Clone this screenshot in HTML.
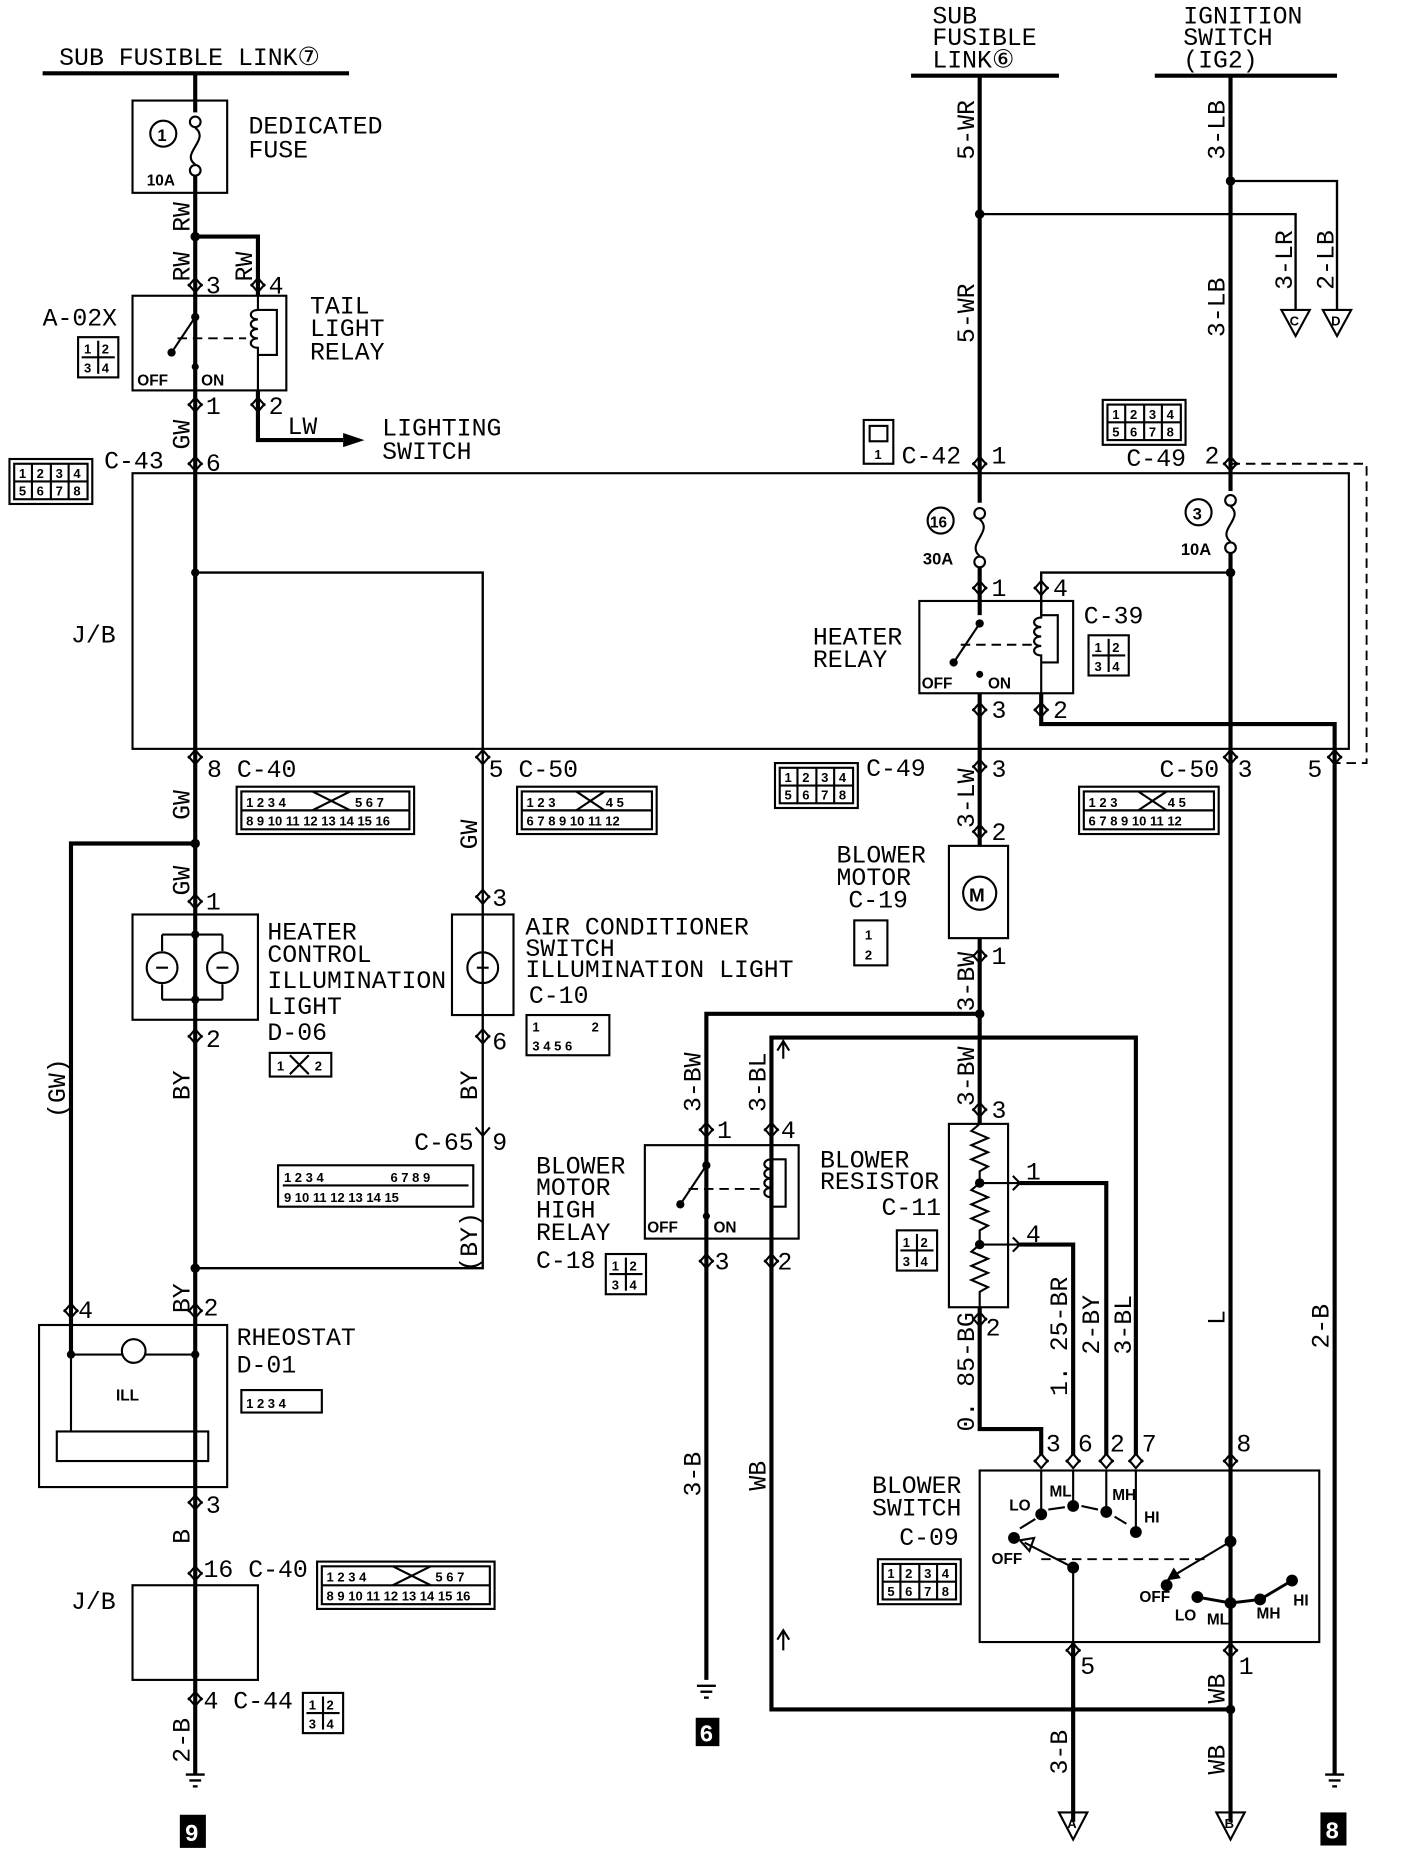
<!DOCTYPE html>
<html><head><meta charset="utf-8"><style>
html,body{margin:0;padding:0;background:#fff}
svg{display:block}
text{font-family:"Liberation Mono","DejaVu Sans Mono",monospace;fill:#000}
.t{font-size:21px}
.s{font-size:11px;font-weight:bold;font-family:"Liberation Sans",sans-serif}
.w{stroke:#000;stroke-width:3.5;fill:none}
.n{stroke:#000;stroke-width:1.8;fill:none}
.d{stroke:#000;stroke-width:1.6;fill:none;stroke-dasharray:8 5}
</style></head><body>
<svg width="1408" height="1868" viewBox="0 0 1190 1579" preserveAspectRatio="none" xmlns="http://www.w3.org/2000/svg">
<defs>
<path id="u" d="M-6,7 L0,0 L6,7" stroke="#000" stroke-width="1.8" fill="none"/>
<path id="v" d="M-6,-7 L0,0 L6,-7" stroke="#000" stroke-width="1.8" fill="none"/>
<g id="pin"><use href="#u" y="-6"/><use href="#v" y="6"/></g>
<g id="gnd"><line x1="-8" y1="0" x2="8" y2="0" stroke="#000" stroke-width="2"/><line x1="-5" y1="5" x2="5" y2="5" stroke="#000" stroke-width="2"/><line x1="-2" y1="10" x2="2" y2="10" stroke="#000" stroke-width="2"/></g>
<g id="c4"><rect x="0" y="0" width="34" height="34" class="n"/><line x1="17" y1="3" x2="17" y2="31" class="n"/><line x1="3" y1="17" x2="31" y2="17" class="n"/><text x="5" y="14" class="s">1</text><text x="20" y="14" class="s">2</text><text x="5" y="30" class="s">3</text><text x="20" y="30" class="s">4</text></g>
<g id="c8"><rect x="0" y="0" width="70" height="38" class="n"/><rect x="4" y="4" width="62" height="30" class="n"/><line x1="4" y1="19" x2="66" y2="19" class="n"/><line x1="19" y1="4" x2="19" y2="34" class="n"/><line x1="35" y1="4" x2="35" y2="34" class="n"/><line x1="50" y1="4" x2="50" y2="34" class="n"/><text x="8" y="16" class="s">1</text><text x="23" y="16" class="s">2</text><text x="39" y="16" class="s">3</text><text x="54" y="16" class="s">4</text><text x="8" y="31" class="s">5</text><text x="23" y="31" class="s">6</text><text x="39" y="31" class="s">7</text><text x="54" y="31" class="s">8</text></g>
<g id="c12"><rect x="0" y="0" width="118" height="40" class="n"/><rect x="4" y="4" width="110" height="32" class="n"/><line x1="4" y1="20" x2="114" y2="20" class="n"/><text x="8" y="17" class="s">1 2 3</text><text x="75" y="17" class="s">4 5</text><text x="8" y="33" class="s">6 7 8 9 10 11 12</text><path d="M50,4 L74,20 M74,4 L50,20" class="n"/></g>
<g id="c16"><rect x="0" y="0" width="150" height="40" class="n"/><rect x="4" y="4" width="142" height="32" class="n"/><line x1="4" y1="20" x2="146" y2="20" class="n"/><text x="8" y="17" class="s">1 2 3 4</text><text x="100" y="17" class="s">5 6 7</text><text x="8" y="33" class="s">8 9 10 11 12 13 14 15 16</text><path d="M64,4 L96,20 M96,4 L64,20" class="n"/></g>
</defs>

<!-- TOP LEFT -->
<text x="50" y="55" class="t">SUB FUSIBLE LINK⑦</text>
<line x1="36" y1="62" x2="295" y2="62" class="w"/>
<line x1="165" y1="62" x2="165" y2="95" class="w"/>
<rect x="112" y="85" width="80" height="78" class="n"/>
<circle cx="165" cy="103" r="4.5" class="n"/><circle cx="165" cy="144" r="4.5" class="n"/>
<path d="M165,108 C178,118 152,130 165,139" class="n"/>
<circle cx="138" cy="113" r="11" class="n"/><text x="133" y="119" class="s" style="font-size:14px">1</text>
<text x="124" y="157" class="s" style="font-size:13px">10A</text>
<text x="210" y="113" class="t">DEDICATED</text><text x="210" y="133" class="t">FUSE</text>
<line x1="165" y1="149" x2="165" y2="1500" class="w"/>
<circle cx="165" cy="200" r="4" fill="#000"/>
<path d="M165,200 H218 V250" class="w"/>
<text class="t" transform="translate(160,196) rotate(-90)">RW</text>
<text class="t" transform="translate(160,238) rotate(-90)">RW</text>
<text class="t" transform="translate(213,238) rotate(-90)">RW</text>
<use href="#pin" x="165" y="241"/><use href="#pin" x="218" y="241"/>
<text x="174" y="248" class="t">3</text><text x="227" y="248" class="t">4</text>
<rect x="112" y="250" width="130" height="80" class="n"/>
<line x1="165" y1="250" x2="165" y2="268" class="n"/><circle cx="165" cy="268" r="3.5" fill="#000"/>
<line x1="165" y1="268" x2="145" y2="298" class="n"/><circle cx="145" cy="298" r="3.5" fill="#000"/>
<circle cx="165" cy="310" r="3" fill="#000"/>
<line x1="150" y1="286" x2="208" y2="286" class="d"/>
<path d="M218,250 V262 C210,262 210,270 218,270 C210,270 210,278 218,278 C210,278 210,286 218,286 C210,286 210,294 218,294 V330" class="n"/>
<path d="M218,262 H234 V300 H218" class="n"/>
<text x="116" y="326" class="s" style="font-size:13px">OFF</text><text x="170" y="326" class="s" style="font-size:13px">ON</text>
<text x="262" y="265" class="t">TAIL</text><text x="262" y="284" class="t">LIGHT</text><text x="262" y="304" class="t">RELAY</text>
<text x="36" y="275" class="t">A-02X</text><use href="#c4" x="66" y="285"/>
<use href="#pin" x="165" y="342"/><use href="#pin" x="218" y="342"/>
<text x="174" y="350" class="t">1</text><text x="227" y="350" class="t">2</text>
<path d="M218,330 V372 H290" class="w"/><path d="M290,366 L308,372 L290,378 Z"/>
<text x="243" y="367" class="t">LW</text>
<text x="323" y="368" class="t">LIGHTING</text><text x="323" y="388" class="t">SWITCH</text>
<text class="t" transform="translate(160,380) rotate(-90)">GW</text>
<use href="#c8" x="8" y="388"/><text x="88" y="396" class="t">C-43</text>
<use href="#pin" x="165" y="392"/><text x="174" y="398" class="t">6</text>

<!-- J/B box -->
<rect x="112" y="400" width="1028" height="233" class="n"/>
<text x="60" y="543" class="t">J/B</text>
<circle cx="165" cy="484" r="3.5" fill="#000"/>
<path d="M165,484 H408 V1072 H165" class="n" style="stroke-width:2"/>
<use href="#pin" x="165" y="640"/><use href="#pin" x="408" y="640"/>
<text x="175" y="657" class="t">8 C-40</text><use href="#c16" x="200" y="665"/>
<text x="413" y="657" class="t">5 C-50</text><use href="#c12" x="437" y="665"/>
<use href="#c8" x="655" y="645"/><text x="732" y="656" class="t">C-49</text>
<use href="#c12" x="912" y="665"/><text x="980" y="657" class="t">C-50</text>
<text x="1046" y="657" class="t">3</text><text x="1105" y="657" class="t">5</text>
<use href="#pin" x="1040" y="640"/><use href="#pin" x="1128" y="640"/>

<!-- RIGHT TOP -->
<text x="788" y="20" class="t">SUB</text><text x="788" y="38" class="t">FUSIBLE</text><text x="788" y="57" class="t">LINK⑥</text>
<line x1="770" y1="64" x2="895" y2="64" class="w"/>
<text x="1000" y="20" class="t">IGNITION</text><text x="1000" y="38" class="t">SWITCH</text><text x="1000" y="57" class="t">(IG2)</text>
<line x1="976" y1="64" x2="1130" y2="64" class="w"/>
<line x1="828" y1="64" x2="828" y2="425" class="w"/>
<line x1="1040" y1="64" x2="1040" y2="415" class="w"/>
<text class="t" transform="translate(823,135) rotate(-90)">5-WR</text>
<text class="t" transform="translate(823,290) rotate(-90)">5-WR</text>
<text class="t" transform="translate(1035,135) rotate(-90)">3-LB</text>
<text class="t" transform="translate(1035,285) rotate(-90)">3-LB</text>
<circle cx="828" cy="181" r="4" fill="#000"/><circle cx="1040" cy="153" r="4" fill="#000"/>
<path d="M828,181 H1095 V262" class="n" style="stroke-width:2"/>
<path d="M1040,153 H1130 V262" class="n" style="stroke-width:2"/>
<path d="M1083,262 H1107 L1095,284 Z" class="n"/><text x="1090" y="275" class="s">C</text>
<path d="M1118,262 H1142 L1130,284 Z" class="n"/><text x="1125" y="275" class="s">D</text>
<text class="t" transform="translate(1092,245) rotate(-90)">3-LR</text>
<text class="t" transform="translate(1127,245) rotate(-90)">2-LB</text>
<rect x="730" y="355" width="25" height="37" class="n"/><rect x="735" y="360" width="15" height="13" class="n"/><text x="739" y="388" class="s">1</text>
<text x="762" y="392" class="t">C-42</text><text x="838" y="392" class="t">1</text>
<use href="#pin" x="828" y="392"/>
<use href="#c8" x="932" y="338"/><text x="952" y="394" class="t">C-49</text><text x="1018" y="392" class="t">2</text>
<use href="#pin" x="1040" y="392"/>
<path d="M1040,392 H1155 V645 H1128" class="d"/>
<circle cx="828" cy="434" r="4.5" class="n"/><circle cx="828" cy="475" r="4.5" class="n"/>
<path d="M828,439 C840,449 816,460 828,470" class="n"/>
<circle cx="795" cy="440" r="11" class="n"/><text x="786" y="446" class="s" style="font-size:13px">16</text>
<text x="780" y="477" class="s" style="font-size:14px">30A</text>
<line x1="828" y1="480" x2="828" y2="520" class="w"/>
<circle cx="1040" cy="423" r="4.5" class="n"/><circle cx="1040" cy="463" r="4.5" class="n"/>
<path d="M1040,428 C1052,438 1028,448 1040,458" class="n"/>
<circle cx="1013" cy="433" r="11" class="n"/><text x="1008" y="439" class="s" style="font-size:14px">3</text>
<text x="998" y="469" class="s" style="font-size:14px">10A</text>
<line x1="1040" y1="468" x2="1040" y2="1540" class="w"/>
<circle cx="1040" cy="484" r="4" fill="#000"/>
<path d="M1040,484 H880 V520" class="n" style="stroke-width:2"/>
<use href="#pin" x="828" y="497"/><use href="#pin" x="880" y="497"/>
<text x="838" y="504" class="t">1</text><text x="890" y="504" class="t">4</text>
<rect x="777" y="508" width="130" height="78" class="n"/>
<circle cx="828" cy="527" r="3.5" fill="#000"/><line x1="828" y1="527" x2="806" y2="560" class="n"/><circle cx="806" cy="560" r="3.5" fill="#000"/><circle cx="828" cy="570" r="3" fill="#000"/>
<line x1="812" y1="545" x2="872" y2="545" class="d"/>
<path d="M880,508 V522 C872,522 872,530 880,530 C872,530 872,538 880,538 C872,538 872,546 880,546 C872,546 872,554 880,554 V586" class="n"/>
<path d="M880,520 H894 V560 H880" class="n"/>
<text x="779" y="582" class="s" style="font-size:13px">OFF</text><text x="835" y="582" class="s" style="font-size:13px">ON</text>
<text x="687" y="545" class="t">HEATER</text><text x="687" y="564" class="t">RELAY</text>
<text x="916" y="527" class="t">C-39</text><use href="#c4" x="920" y="537"/>
<use href="#pin" x="828" y="600"/><use href="#pin" x="880" y="600"/>
<text x="838" y="607" class="t">3</text><text x="890" y="607" class="t">2</text>
<path d="M880,586 V612 H1128 V1500" class="w"/>
<line x1="828" y1="586" x2="828" y2="715" class="w"/>
<use href="#pin" x="828" y="648"/><text x="838" y="657" class="t">3</text>
<text class="t" transform="translate(823,700) rotate(-90)">3-LW</text>
<use href="#pin" x="828" y="703"/><text x="838" y="710" class="t">2</text>
<rect x="802" y="715" width="50" height="78" class="n"/>
<circle cx="828" cy="755" r="14" class="n"/><text x="819" y="762" class="s" style="font-size:16px">M</text>
<text x="707" y="729" class="t">BLOWER</text><text x="707" y="748" class="t">MOTOR</text><text x="717" y="767" class="t">C-19</text>
<rect x="722" y="778" width="28" height="38" class="n"/><text x="731" y="794" class="s">1</text><text x="731" y="811" class="s">2</text>
<line x1="828" y1="793" x2="828" y2="950" class="w"/>
<use href="#pin" x="828" y="808"/><text x="838" y="815" class="t">1</text>
<text class="t" transform="translate(823,855) rotate(-90)">3-BW</text>
<circle cx="828" cy="857" r="4" fill="#000"/>
<path d="M828,857 H597 V1420" class="w"/>
<path d="M960,1230 V877 H652 V1445 H1040" class="w"/>
<circle cx="1040" cy="1445" r="4" fill="#000"/>
<text class="t" transform="translate(823,935) rotate(-90)">3-BW</text>
<path d="M662,895 V880 M657,888 L662,880 L667,888" class="n"/>
<path d="M662,1395 V1378 M657,1386 L662,1378 L667,1386" class="n"/>

<!-- Blower motor high relay -->
<text class="t" transform="translate(592,940) rotate(-90)">3-BW</text>
<text class="t" transform="translate(647,940) rotate(-90)">3-BL</text>
<use href="#pin" x="597" y="955"/><use href="#pin" x="652" y="955"/>
<text x="606" y="962" class="t">1</text><text x="660" y="962" class="t">4</text>
<rect x="545" y="968" width="130" height="79" class="n"/>
<circle cx="597" cy="985" r="3.5" fill="#000"/><line x1="597" y1="985" x2="575" y2="1018" class="n"/><circle cx="575" cy="1018" r="3.5" fill="#000"/><circle cx="597" cy="1028" r="3" fill="#000"/>
<line x1="582" y1="1005" x2="645" y2="1005" class="d"/>
<path d="M652,980 C644,980 644,988 652,988 C644,988 644,996 652,996 C644,996 644,1004 652,1004 C644,1004 644,1012 652,1012" class="n"/>
<path d="M652,980 H664 V1020 H652" class="n"/>
<text x="547" y="1042" class="s" style="font-size:13px">OFF</text><text x="603" y="1042" class="s" style="font-size:13px">ON</text>
<text x="453" y="992" class="t">BLOWER</text><text x="453" y="1010" class="t">MOTOR</text><text x="453" y="1029" class="t">HIGH</text><text x="453" y="1048" class="t">RELAY</text>
<text x="453" y="1072" class="t">C-18</text><use href="#c4" x="512" y="1060"/>
<use href="#pin" x="597" y="1066"/><use href="#pin" x="652" y="1066"/>
<text x="604" y="1073" class="t">3</text><text x="657" y="1073" class="t">2</text>
<text class="t" transform="translate(592,1265) rotate(-90)">3-B</text>
<text class="t" transform="translate(647,1260) rotate(-90)">WB</text>
<use href="#gnd" x="597" y="1425"/>
<rect x="588" y="1452" width="20" height="24" fill="#000"/><text x="591" y="1472" style="font-size:20px;fill:#fff;font-weight:bold">6</text>

<!-- Blower resistor -->
<use href="#pin" x="828" y="938"/><text x="838" y="945" class="t">3</text>
<rect x="802" y="950" width="50" height="155" class="n"/>
<path d="M828,950 l-7,6 14,6 -14,6 14,6 -14,6 14,6 -7,4 V1000 l-7,6 14,6 -14,6 14,6 -14,6 14,6 -7,4 V1052 l-7,6 14,6 -14,6 14,6 -14,6 14,6 -7,4 V1105" class="n"/>
<circle cx="828" cy="1000" r="4" fill="#000"/><circle cx="828" cy="1052" r="4" fill="#000"/>
<path d="M828,1000 H862 M856,994 L862,1000 L856,1006" class="n"/>
<path d="M828,1052 H862 M856,1046 L862,1052 L856,1058" class="n"/>
<path d="M862,1000 H935 V1230" class="w"/>
<path d="M862,1052 H907 V1230" class="w"/>
<text x="867" y="997" class="t">1</text><text x="867" y="1050" class="t">4</text>
<text x="693" y="987" class="t">BLOWER</text><text x="693" y="1005" class="t">RESISTOR</text><text x="745" y="1027" class="t">C-11</text>
<use href="#c4" x="758" y="1040"/>
<use href="#pin" x="828" y="1115"/><text x="833" y="1129" class="t">2</text>
<path d="M828,1105 V1208 H880 V1230" class="w"/>
<text class="t" transform="translate(823,1210) rotate(-90)">0. 85-BG</text>
<text class="t" transform="translate(902,1180) rotate(-90)">1. 25-BR</text>
<text class="t" transform="translate(929,1145) rotate(-90)">2-BY</text>
<text class="t" transform="translate(956,1145) rotate(-90)">3-BL</text>
<text class="t" transform="translate(1035,1120) rotate(-90)">L</text>
<text class="t" transform="translate(1123,1140) rotate(-90)">2-B</text>

<!-- Blower switch -->
<use href="#pin" x="880" y="1235"/><use href="#pin" x="907" y="1235"/><use href="#pin" x="935" y="1235"/><use href="#pin" x="960" y="1235"/><use href="#pin" x="1040" y="1235"/>
<text x="884" y="1227" class="t">3</text><text x="911" y="1227" class="t">6</text><text x="938" y="1227" class="t">2</text><text x="965" y="1227" class="t">7</text><text x="1045" y="1227" class="t">8</text>
<rect x="828" y="1243" width="287" height="145" class="n"/>
<line x1="880" y1="1243" x2="880" y2="1280" class="n"/><line x1="907" y1="1243" x2="907" y2="1273" class="n"/><line x1="935" y1="1243" x2="935" y2="1278" class="n"/><line x1="960" y1="1243" x2="960" y2="1295" class="n"/>
<circle cx="880" cy="1280" r="5" fill="#000"/><circle cx="907" cy="1273" r="5" fill="#000"/><circle cx="935" cy="1278" r="5" fill="#000"/><circle cx="960" cy="1295" r="5" fill="#000"/>
<circle cx="857" cy="1300" r="5" fill="#000"/>
<path d="M862,1292 L875,1284 M886,1276 L900,1274 M914,1273 L928,1276 M942,1282 L952,1288" class="n"/>
<line x1="907" y1="1325" x2="866" y2="1304" class="n"/><path d="M862,1302 L874,1300 L870,1311 Z" class="n"/>
<circle cx="907" cy="1325" r="5" fill="#000"/>
<line x1="907" y1="1325" x2="907" y2="1400" class="n"/>
<line x1="880" y1="1318" x2="1018" y2="1318" class="d"/>
<text x="853" y="1277" class="s" style="font-size:13px">LO</text><text x="887" y="1265" class="s" style="font-size:13px">ML</text><text x="940" y="1268" class="s" style="font-size:13px">MH</text><text x="967" y="1287" class="s" style="font-size:13px">HI</text>
<text x="838" y="1322" class="s" style="font-size:13px">OFF</text>
<line x1="1040" y1="1243" x2="1040" y2="1303" class="n"/><circle cx="1040" cy="1303" r="5" fill="#000"/>
<line x1="1040" y1="1303" x2="990" y2="1333" class="n"/><path d="M986,1336 L992,1325 L998,1334 Z" fill="#000"/>
<circle cx="986" cy="1340" r="5" fill="#000"/>
<path d="M1012,1350 L1040,1355 L1065,1352 L1092,1336" class="n" style="stroke-width:2.5"/>
<circle cx="1012" cy="1350" r="5" fill="#000"/><circle cx="1040" cy="1355" r="5" fill="#000"/><circle cx="1065" cy="1352" r="5" fill="#000"/><circle cx="1092" cy="1336" r="5" fill="#000"/>
<text x="963" y="1354" class="s" style="font-size:13px">OFF</text><text x="993" y="1370" class="s" style="font-size:13px">LO</text><text x="1020" y="1373" class="s" style="font-size:13px">ML</text><text x="1062" y="1368" class="s" style="font-size:13px">MH</text><text x="1093" y="1357" class="s" style="font-size:13px">HI</text>
<text x="737" y="1262" class="t">BLOWER</text><text x="737" y="1281" class="t">SWITCH</text><text x="760" y="1306" class="t">C-09</text>
<use href="#c8" x="742" y="1318"/>
<use href="#pin" x="907" y="1395"/><use href="#pin" x="1040" y="1395"/>
<text x="913" y="1415" class="t">5</text><text x="1047" y="1415" class="t">1</text>
<line x1="907" y1="1388" x2="907" y2="1540" class="w"/>
<text class="t" transform="translate(902,1500) rotate(-90)">3-B</text>
<text class="t" transform="translate(1035,1440) rotate(-90)">WB</text>
<text class="t" transform="translate(1035,1500) rotate(-90)">WB</text>
<path d="M895,1532 H919 L907,1555 Z" class="n"/><text x="902" y="1545" class="s">A</text>
<path d="M1028,1532 H1052 L1040,1555 Z" class="n"/><text x="1035" y="1545" class="s">B</text>
<use href="#gnd" x="1128" y="1500"/>
<rect x="1116" y="1532" width="22" height="28" fill="#000"/><text x="1120" y="1554" style="font-size:20px;fill:#fff;font-weight:bold">8</text>

<!-- LEFT LOWER -->
<text class="t" transform="translate(160,693) rotate(-90)">GW</text>
<circle cx="165" cy="713" r="4" fill="#000"/>
<path d="M165,713 H60 V1145" class="w"/>
<text class="t" transform="translate(55,945) rotate(-90)">(GW)</text>
<text class="t" transform="translate(160,757) rotate(-90)">GW</text>
<use href="#pin" x="165" y="762"/><text x="174" y="769" class="t">1</text>
<rect x="112" y="773" width="106" height="89" class="n"/>
<circle cx="165" cy="790" r="3.5" fill="#000"/><circle cx="165" cy="845" r="3.5" fill="#000"/>
<path d="M137,790 H188 M137,845 H188" class="n"/><path d="M137,790 V804 M137,832 V845 M188,790 V804 M188,832 V845" class="n"/>
<circle cx="137" cy="818" r="13" class="n"/><circle cx="188" cy="818" r="13" class="n"/>
<path d="M132,818 h10 M183,818 h10" class="n"/>
<text x="226" y="794" class="t">HEATER</text><text x="226" y="813" class="t">CONTROL</text><text x="226" y="835" class="t">ILLUMINATION</text><text x="226" y="857" class="t">LIGHT</text><text x="226" y="879" class="t">D-06</text>
<rect x="228" y="890" width="52" height="20" class="n"/><text x="234" y="905" class="s">1</text><path d="M245,892 L261,908 M261,892 L245,908" class="n"/><text x="266" y="905" class="s">2</text>
<use href="#pin" x="165" y="876"/><text x="174" y="885" class="t">2</text>
<text class="t" transform="translate(160,930) rotate(-90)">BY</text>
<text class="t" transform="translate(403,718) rotate(-90)">GW</text>
<use href="#pin" x="408" y="758"/><text x="416" y="766" class="t">3</text>
<rect x="382" y="773" width="52" height="85" class="n"/>
<circle cx="408" cy="818" r="13" class="n"/><path d="M403,818 h10" class="n"/>
<text x="444" y="790" class="t">AIR CONDITIONER</text><text x="444" y="808" class="t">SWITCH</text><text x="444" y="826" class="t">ILLUMINATION LIGHT</text><text x="447" y="848" class="t">C-10</text>
<rect x="445" y="858" width="70" height="34" class="n"/><text x="450" y="872" class="s">1</text><text x="500" y="872" class="s">2</text><text x="450" y="888" class="s">3 4 5 6</text>
<use href="#pin" x="408" y="876"/><text x="416" y="887" class="t">6</text>
<text class="t" transform="translate(403,930) rotate(-90)">BY</text>
<use href="#v" x="408" y="960"/><text x="350" y="972" class="t">C-65</text><text x="416" y="972" class="t">9</text>
<rect x="235" y="985" width="165" height="35" class="n"/><line x1="239" y1="1002" x2="396" y2="1002" class="n"/>
<text x="240" y="999" class="s">1 2 3 4</text><text x="330" y="999" class="s">6 7 8 9</text><text x="240" y="1016" class="s">9 10  11  12  13 14 15</text>
<text class="t" transform="translate(403,1075) rotate(-90)">(BY)</text>
<circle cx="165" cy="1072" r="4" fill="#000"/>
<text class="t" transform="translate(160,1110) rotate(-90)">BY</text>
<use href="#pin" x="60" y="1108"/><use href="#pin" x="165" y="1108"/>
<text x="66" y="1114" class="t">4</text><text x="172" y="1112" class="t">2</text>
<rect x="33" y="1120" width="159" height="137" class="n"/>
<circle cx="60" cy="1145" r="3.5" fill="#000"/><circle cx="165" cy="1145" r="3.5" fill="#000"/>
<path d="M60,1145 H165 M60,1145 V1210" class="n"/>
<circle cx="113" cy="1142" r="10" class="n" style="fill:#fff"/>
<text x="98" y="1184" class="s" style="font-size:13px">ILL</text>
<rect x="48" y="1210" width="128" height="25" class="n"/>
<text x="200" y="1137" class="t">RHEOSTAT</text><text x="200" y="1160" class="t">D-01</text>
<rect x="204" y="1175" width="68" height="19" class="n"/><text x="208" y="1190" class="s">1 2 3 4</text>
<use href="#pin" x="165" y="1270"/><text x="174" y="1279" class="t">3</text>
<text class="t" transform="translate(160,1305) rotate(-90)">B</text>
<use href="#pin" x="165" y="1330"/><text x="172" y="1333" class="t">16 C-40</text>
<use href="#c16" x="268" y="1320"/>
<rect x="112" y="1340" width="106" height="80" class="n"/>
<text x="60" y="1360" class="t">J/B</text>
<use href="#pin" x="165" y="1436"/><text x="172" y="1444" class="t">4 C-44</text>
<use href="#c4" x="256" y="1431"/>
<text class="t" transform="translate(160,1490) rotate(-90)">2-B</text>
<use href="#gnd" x="165" y="1500"/>
<rect x="152" y="1534" width="22" height="28" fill="#000"/><text x="156" y="1556" style="font-size:20px;fill:#fff;font-weight:bold">9</text>
</svg>
</body></html>
